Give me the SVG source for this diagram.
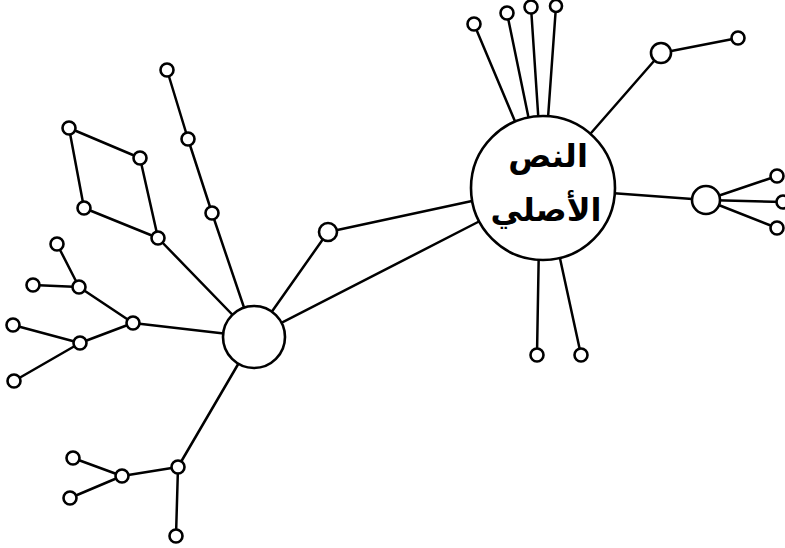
<svg xmlns="http://www.w3.org/2000/svg" width="785" height="548" viewBox="0 0 785 548">
<style>
.e line{stroke:#000;stroke-width:2.5;stroke-linecap:round}
.n{fill:#fff;stroke:#000;stroke-width:2.6}
.t{font-family:"DejaVu Sans","Noto Sans",sans-serif;font-weight:bold;font-size:32px;fill:#000;text-anchor:middle}
</style>
<rect width="785" height="548" fill="#fff"/>
<g id="connectors" class="e">
<line x1="543" y1="188" x2="474" y2="24"/>
<line x1="543" y1="188" x2="507" y2="13"/>
<line x1="543" y1="188" x2="531" y2="7"/>
<line x1="543" y1="188" x2="556" y2="6"/>
<line x1="539" y1="240" x2="537" y2="355"/>
<line x1="556" y1="240" x2="581" y2="355"/>
<line x1="543" y1="188" x2="661" y2="53"/>
<line x1="661" y1="53" x2="738" y2="38"/>
<line x1="543" y1="188" x2="706" y2="200"/>
<line x1="706" y1="200" x2="777" y2="176"/>
<line x1="706" y1="200" x2="783" y2="202"/>
<line x1="706" y1="200" x2="777" y2="228"/>
<line x1="478" y1="222" x2="254" y2="337"/>
<line x1="472" y1="201" x2="328" y2="232"/>
<line x1="328" y1="232" x2="254" y2="337"/>
<line x1="254" y1="337" x2="212" y2="213"/>
<line x1="212" y1="213" x2="188" y2="139"/>
<line x1="188" y1="139" x2="167" y2="70"/>
<line x1="69" y1="128" x2="140" y2="158"/>
<line x1="69" y1="128" x2="84" y2="208"/>
<line x1="140" y1="158" x2="158" y2="238"/>
<line x1="84" y1="208" x2="158" y2="238"/>
<line x1="158" y1="238" x2="254" y2="337"/>
<line x1="133" y1="323" x2="254" y2="337"/>
<line x1="133" y1="323" x2="79" y2="287"/>
<line x1="79" y1="287" x2="57" y2="244"/>
<line x1="79" y1="287" x2="33" y2="285"/>
<line x1="133" y1="323" x2="80" y2="343"/>
<line x1="80" y1="343" x2="13" y2="325"/>
<line x1="80" y1="343" x2="14" y2="381"/>
<line x1="254" y1="337" x2="178" y2="467"/>
<line x1="178" y1="467" x2="122" y2="476"/>
<line x1="178" y1="467" x2="176" y2="536"/>
<line x1="122" y1="476" x2="73" y2="458"/>
<line x1="122" y1="476" x2="70" y2="498"/>
</g>
<g id="main"><circle class="n" cx="543" cy="188" r="72"/>
<text class="t" x="548" y="167">النص</text>
<text class="t" x="546" y="221">الأصلي</text></g>
<g id="hub"><circle class="n" cx="254" cy="337" r="31"/></g>
<g id="r1"><circle class="n" cx="661" cy="53" r="10"/></g>
<g id="r2"><circle class="n" cx="706" cy="200" r="14"/></g>
<g id="m1"><circle class="n" cx="328" cy="232" r="9"/></g>
<g id="t1"><circle class="n" cx="474" cy="24" r="6.5"/></g>
<g id="t2"><circle class="n" cx="507" cy="13" r="6.5"/></g>
<g id="t3"><circle class="n" cx="531" cy="7" r="6.5"/></g>
<g id="t4"><circle class="n" cx="556" cy="6" r="6"/></g>
<g id="b1"><circle class="n" cx="537" cy="355" r="6.5"/></g>
<g id="b2"><circle class="n" cx="581" cy="355" r="6.5"/></g>
<g id="r1a"><circle class="n" cx="738" cy="38" r="6.5"/></g>
<g id="r2a"><circle class="n" cx="777" cy="176" r="6.5"/></g>
<g id="r2b"><circle class="n" cx="783" cy="202" r="6.5"/></g>
<g id="r2c"><circle class="n" cx="777" cy="228" r="6.5"/></g>
<g id="u1"><circle class="n" cx="212" cy="213" r="6.5"/></g>
<g id="u2"><circle class="n" cx="188" cy="139" r="6.5"/></g>
<g id="u3"><circle class="n" cx="167" cy="70" r="6.5"/></g>
<g id="d1"><circle class="n" cx="69" cy="128" r="6.5"/></g>
<g id="d2"><circle class="n" cx="140" cy="158" r="6.5"/></g>
<g id="d3"><circle class="n" cx="84" cy="208" r="6.5"/></g>
<g id="d4"><circle class="n" cx="158" cy="238" r="6.5"/></g>
<g id="l1"><circle class="n" cx="133" cy="323" r="6.5"/></g>
<g id="l2"><circle class="n" cx="79" cy="287" r="6.5"/></g>
<g id="l3"><circle class="n" cx="57" cy="244" r="6.5"/></g>
<g id="l4"><circle class="n" cx="33" cy="285" r="6.5"/></g>
<g id="l5"><circle class="n" cx="80" cy="343" r="6.5"/></g>
<g id="l6"><circle class="n" cx="13" cy="325" r="6.5"/></g>
<g id="l7"><circle class="n" cx="14" cy="381" r="6.5"/></g>
<g id="s1"><circle class="n" cx="178" cy="467" r="6.5"/></g>
<g id="s2"><circle class="n" cx="122" cy="476" r="6.5"/></g>
<g id="s3"><circle class="n" cx="176" cy="536" r="6.5"/></g>
<g id="s4"><circle class="n" cx="73" cy="458" r="6.5"/></g>
<g id="s5"><circle class="n" cx="70" cy="498" r="6.5"/></g>
</svg>
